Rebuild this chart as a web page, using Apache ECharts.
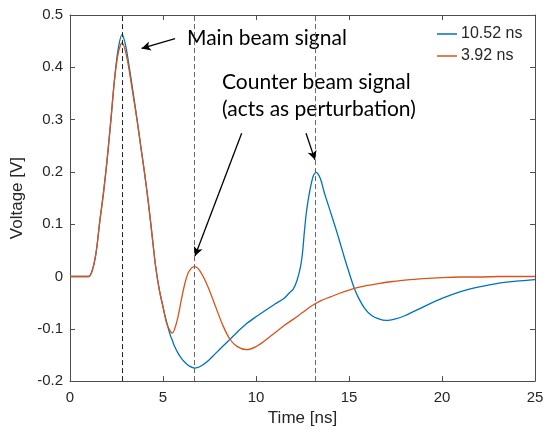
<!DOCTYPE html>
<html>
<head>
<meta charset="utf-8">
<script src="https://cdn.jsdelivr.net/npm/echarts@6/dist/echarts.min.js"></script>
<style>
  html, body { margin: 0; padding: 0; background: #fff; }
  #chart { width: 547px; height: 432px; }
</style>
</head>
<body>
<div id="chart"></div>
<script>
// 10.52 ns trace: time [ns] and voltage [V]
const timeBlue = [0, 0.8, 1.0, 1.2, 1.4, 1.6, 1.8, 2.0, 2.2, 2.4, 2.6, 2.8, 3.0, 3.2, 3.4, 3.6, 3.8, 4.0, 4.2, 4.4, 4.6, 4.8, 5.0,
  5.2, 5.4, 5.5, 5.6, 5.8, 6.0, 6.2, 6.4, 6.7, 7.0, 7.4, 7.8, 8.2, 8.6, 9.0, 9.5, 10, 10.5, 11, 11.5, 11.8, 12.0,
  12.2, 12.4, 12.5, 12.6, 12.7, 12.8, 12.9, 13.0, 13.1, 13.25, 13.4, 13.5, 13.6, 13.7, 13.8, 14.0, 14.25, 14.5, 14.78,
  15.0, 15.27, 15.5, 15.86, 16.2, 16.6, 17.0, 17.5, 18, 19, 20, 21, 22, 23, 24, 25];
const voltBlue = [0, 0, 0, 0.012, 0.045, 0.105, 0.16, 0.225, 0.30, 0.38, 0.437, 0.463, 0.44, 0.397, 0.35, 0.302, 0.25, 0.20, 0.145, 0.083, 0.02, -0.025, -0.058,
  -0.088, -0.113, -0.122, -0.132, -0.146, -0.157, -0.165, -0.171, -0.175, -0.172, -0.162, -0.148, -0.134, -0.12, -0.106, -0.09, -0.077, -0.065, -0.053, -0.042, -0.031, -0.024,
  -0.008, 0.02, 0.045, 0.085, 0.12, 0.145, 0.165, 0.182, 0.194, 0.199, 0.192, 0.183, 0.17, 0.157, 0.146, 0.124, 0.096, 0.067, 0.033,
  0.008, -0.021, -0.04, -0.062, -0.074, -0.081, -0.084, -0.081, -0.075, -0.058, -0.042, -0.029, -0.02, -0.013, -0.009, -0.006];

// 3.92 ns trace
const timeOrange = [0, 0.8, 1.0, 1.2, 1.4, 1.6, 1.8, 2.0, 2.2, 2.4, 2.6, 2.8, 3.0, 3.2, 3.4, 3.6, 3.8, 4.0, 4.2, 4.4, 4.6, 4.8, 5.0,
  5.2, 5.4, 5.5, 5.6, 5.8, 6.0, 6.2, 6.4, 6.7, 7.0, 7.4, 7.8, 8.2, 8.6, 9.0, 9.5, 10, 10.5, 11, 11.5, 12.0,
  12.5, 13.0, 13.5, 14.0, 14.5, 15.0, 15.5, 16.0, 16.5, 17.0, 17.5, 18, 19, 20, 21, 22, 23, 24, 25];
const voltOrange = [0, 0, 0, 0.012, 0.045, 0.105, 0.16, 0.225, 0.30, 0.378, 0.428, 0.447, 0.428, 0.39, 0.345, 0.30, 0.25, 0.20, 0.145, 0.083, 0.02, -0.025, -0.058,
  -0.09, -0.105, -0.108, -0.103, -0.078, -0.042, -0.01, 0.01, 0.019, 0.01, -0.018, -0.055, -0.092, -0.12, -0.134, -0.14, -0.134, -0.122, -0.108, -0.094, -0.082,
  -0.069, -0.056, -0.046, -0.039, -0.032, -0.026, -0.021, -0.017, -0.014, -0.011, -0.009, -0.007, -0.004, -0.002, -0.001, -0.001, 0, 0, 0];

const seriesNames = ['10.52 ns', '3.92 ns'];
const markerTimes = [2.8, 6.67, 13.2];

const axisColor = '#4d4d4d';
const textColor = '#262626';

let myChart = echarts.init(document.getElementById('chart'));

const pairs = (ts, ys) => ts.map((t, i) => [t, ys[i]]);
const arrow = (a, b) => [{ coord: a }, { coord: b }];

myChart.setOption({
  animation: false,
  grid: { left: 70, right: 12, top: 15, bottom: 50 },
  legend: {
    data: seriesNames,
    orient: 'vertical',
    left: 432,
    top: 21,
    icon: 'rect',
    itemWidth: 20,
    itemHeight: 1.5,
    itemGap: 6,
    textStyle: { fontFamily: 'Liberation Sans', fontSize: 16, color: textColor, padding: [0, 0, 0, -1] }
  },
  xAxis: [
    {
      type: 'value', min: 0, max: 25, interval: 5,
      name: 'Time [ns]', nameLocation: 'middle', nameGap: 28,
      nameTextStyle: { fontFamily: 'Liberation Sans', fontSize: 17, color: textColor },
      axisLine: { show: true, onZero: false, lineStyle: { color: axisColor, width: 1 } },
      axisTick: { inside: true, length: 5, lineStyle: { color: axisColor } },
      axisLabel: { fontFamily: 'Liberation Sans', fontSize: 15, color: textColor, margin: 9 },
      splitLine: { show: false }
    },
    {
      type: 'value', min: 0, max: 25, interval: 5, position: 'top',
      axisLine: { show: true, onZero: false, lineStyle: { color: axisColor, width: 1 } },
      axisTick: { inside: true, length: 5, lineStyle: { color: axisColor } },
      axisLabel: { show: false },
      splitLine: { show: false }
    }
  ],
  yAxis: [
    {
      type: 'value', min: -0.2, max: 0.5, interval: 0.1,
      name: 'Voltage [V]', nameLocation: 'middle', nameGap: 40,
      nameTextStyle: { fontFamily: 'Liberation Sans', fontSize: 17, color: textColor },
      axisLine: { show: true, onZero: false, lineStyle: { color: axisColor, width: 1 } },
      axisTick: { inside: true, length: 5, lineStyle: { color: axisColor } },
      axisLabel: { fontFamily: 'Liberation Sans', fontSize: 15, color: textColor, margin: 7 },
      splitLine: { show: false }
    },
    {
      type: 'value', min: -0.2, max: 0.5, interval: 0.1, position: 'right',
      axisLine: { show: true, onZero: false, lineStyle: { color: axisColor, width: 1 } },
      axisTick: { inside: true, length: 5, lineStyle: { color: axisColor } },
      axisLabel: { show: false },
      splitLine: { show: false }
    }
  ],
  graphic: [
    { type: 'text', left: 187, top: 28, style: { text: 'Main beam signal', font: '21px Lato', fill: '#000' } },
    { type: 'text', left: 222, top: 72, style: { text: 'Counter beam signal', font: '21px Lato', fill: '#000' } },
    { type: 'text', left: 222, top: 99, style: { text: '(acts as perturbation)', font: '21px Lato', fill: '#000' } }
  ],
  series: [
    {
      name: seriesNames[0],
      type: 'line',
      data: pairs(timeBlue, voltBlue),
      symbol: 'none',
      smooth: 0.3,
      lineStyle: { color: '#0072BD', width: 1.3 },
      itemStyle: { color: '#0072BD' },
      z: 3,
      markLine: {
        silent: true,
        symbol: ['none', 'none'],
        label: { show: false },
        data: markerTimes.map((t, i) => ({
          xAxis: t,
          lineStyle: { color: i === 0 ? '#222' : '#666', type: [5, 3], width: 1 }
        }))
      }
    },
    {
      name: seriesNames[1],
      type: 'line',
      data: pairs(timeOrange, voltOrange),
      symbol: 'none',
      smooth: 0.3,
      lineStyle: { color: '#D95319', width: 1.3 },
      itemStyle: { color: '#D95319' },
      z: 4,
      markLine: {
        silent: true,
        symbol: ['none', 'arrow'],
        symbolSize: [7, 9],
        label: { show: false },
        lineStyle: { color: '#000', type: 'solid', width: 1.3 },
        data: [
          arrow([5.65, 0.455], [3.85, 0.436]),
          arrow([9.23, 0.274], [6.72, 0.039]),
          arrow([12.69, 0.274], [13.17, 0.223])
        ]
      }
    }
  ]
});
</script>
</body>
</html>
